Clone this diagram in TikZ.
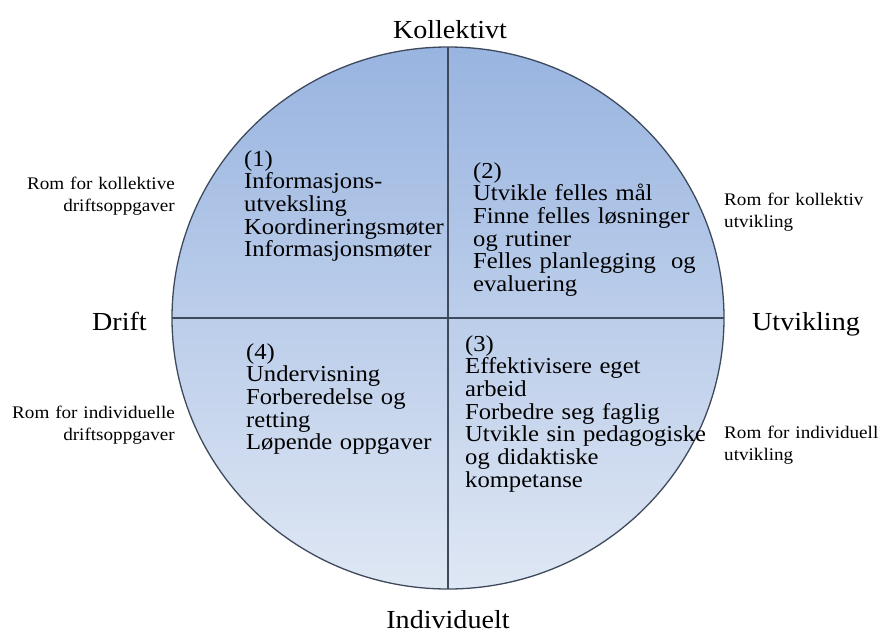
\documentclass[tikz,border=0pt]{standalone}
\usepackage{fontspec}
\setmainfont[FakeStretch=1.08]{Liberation Serif}
\definecolor{topblue}{HTML}{98B4E0}
\definecolor{botblue}{HTML}{DFE7F4}
\definecolor{edgecol}{HTML}{3E4A5C}
\begin{document}
\begin{tikzpicture}[x=1pt,y=-1pt,
  rim/.style={draw=edgecol,line width=1.3pt},
  divider/.style={draw=edgecol,line width=1.2pt},
  axislabel/.style={inner sep=0pt,font=\fontsize{26}{28}\selectfont},
  sidelabel/.style={inner sep=0pt,text width=170pt,font=\fontsize{17.7}{22.7}\selectfont},
  quadtext/.style={inner sep=0pt,text width=270pt,align=left,anchor=base west,font=\fontsize{22.8}{22.7}\selectfont}]
\useasboundingbox (0,0) rectangle (880,634);
\coordinate (c) at (448,318);
\coordinate (t) at (448,47);
\coordinate (b) at (448,589);
\coordinate (l) at (172,318);
\coordinate (r) at (724,318);
\shade[top color=topblue,bottom color=botblue] (c) ellipse [x radius=276, y radius=271];
\draw[divider] (t) -- (b);
\draw[divider] (l) -- (r);
\draw[rim] (c) ellipse [x radius=276, y radius=271];
% axis labels
\node[axislabel,anchor=base] (kol) at (450,38) {Kollektivt};
\node[axislabel,anchor=base] (ind) at (448,628) {Individuelt};
\node[axislabel,anchor=base east] (drift) at (147,330) {Drift};
\node[axislabel,anchor=base west] (utv) at (752,330) {Utvikling};
% side labels
\node[sidelabel,align=right,anchor=base east] (s1) at (175,189) {Rom for kollektive\\driftsoppgaver};
\node[sidelabel,align=left,anchor=base west] (s2) at (724,205) {Rom for kollektiv\\utvikling};
\node[sidelabel,align=right,anchor=base east] (s4) at (175,418) {Rom for individuelle\\driftsoppgaver};
\node[sidelabel,align=left,anchor=base west] (s3) at (724,438) {Rom for individuell\\utvikling};
% quadrant texts
\node[quadtext] (q1) at (244,166) {(1)\\Informasjons-\\utveksling\\Koordineringsmøter\\Informasjonsmøter};
\node[quadtext] (q2) at (473,178) {(2)\\Utvikle felles mål\\Finne felles løsninger\\og rutiner\\Felles planlegging\ \ og\\evaluering};
\node[quadtext] (q4) at (246,359) {(4)\\Undervisning\\Forberedelse og\\retting\\Løpende oppgaver};
\node[quadtext] (q3) at (465,351) {(3)\\Effektivisere eget\\arbeid\\Forbedre seg faglig\\Utvikle sin pedagogiske\\og didaktiske\\kompetanse};
\end{tikzpicture}
\end{document}
